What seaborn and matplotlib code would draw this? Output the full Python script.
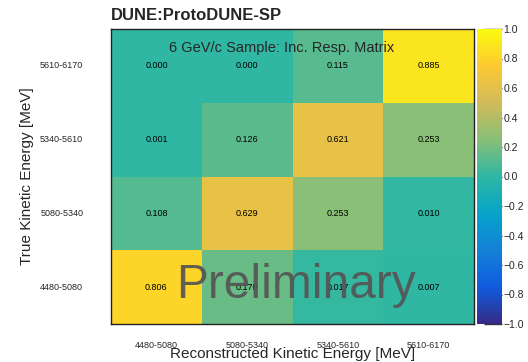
import numpy as np
import pandas as pd
import matplotlib
matplotlib.use("Agg")
import matplotlib.pyplot as plt
from matplotlib.colors import LinearSegmentedColormap
import seaborn as sns

# Energy bins (MeV)
reco_bins = ["4480-5080", "5080-5340", "5340-5610", "5610-6170"]
true_bins = ["5610-6170", "5340-5610", "5080-5340", "4480-5080"]  # top to bottom

# Response matrix rows (true bin), columns (reconstructed bin)
row_5610_6170 = [0.000, 0.000, 0.115, 0.885]
row_5340_5610 = [0.001, 0.126, 0.621, 0.253]
row_5080_5340 = [0.108, 0.629, 0.253, 0.010]
row_4480_5080 = [0.806, 0.170, 0.017, 0.007]

cbar_ticks = [-1.0, -0.8, -0.6, -0.4, -0.2, 0.0, 0.2, 0.4, 0.6, 0.8, 1.0]

matrix = pd.DataFrame(
    [row_5610_6170, row_5340_5610, row_5080_5340, row_4480_5080],
    index=true_bins, columns=reco_bins,
)

# ROOT "bird" palette
stops = [0.0, 0.125, 0.25, 0.375, 0.5, 0.625, 0.75, 0.875, 1.0]
red = [0.2082, 0.0592, 0.0780, 0.0232, 0.1802, 0.5301, 0.8186, 0.9956, 0.9764]
green = [0.1664, 0.3599, 0.5041, 0.6419, 0.7178, 0.7492, 0.7328, 0.7862, 0.9832]
blue = [0.5293, 0.8684, 0.8385, 0.7914, 0.6425, 0.4662, 0.3499, 0.1968, 0.0539]
bird = LinearSegmentedColormap.from_list(
    "bird", list(zip(stops, zip(red, green, blue))), N=256)

sns.set_style("white")
plt.rcParams["font.family"] = ["Liberation Sans", "DejaVu Sans"]
plt.rcParams["axes.unicode_minus"] = True

W, H = 528, 362
fig = plt.figure(figsize=(W / 100, H / 100), dpi=100)
ax = fig.add_axes([111 / W, 1 - 324 / H, (474 - 111) / W, (324 - 29) / H])
cax = fig.add_axes([477 / W, 1 - 324 / H, (502 - 477) / W, (324 - 29) / H])

sns.heatmap(matrix, ax=ax, cbar_ax=cax, cmap=bird, vmin=-1, vmax=1,
            annot=True, fmt=".3f", annot_kws={"size": 6.5, "color": "black"},
            linewidths=0)

# Frame
for sp in ax.spines.values():
    sp.set_visible(True)
    sp.set_linewidth(1.0)
    sp.set_color("#222222")

ax.tick_params(axis="both", which="major", length=0, labelsize=6.5)
ax.tick_params(axis="x", which="major", pad=12)
ax.tick_params(axis="y", which="major", pad=20)
ax.set_yticklabels(true_bins, rotation=0)
ax.set_xticklabels(reco_bins, rotation=0)

# Inner ticks at bin edges, on all sides
ax.set_xticks([1, 2, 3], minor=True)
ax.set_yticks([1, 2, 3], minor=True)
ax.tick_params(axis="x", which="minor", direction="in", length=7, width=1,
               top=True, bottom=True, color="#222222")
ax.tick_params(axis="y", which="minor", direction="in", length=13, width=1,
               left=True, right=True, color="#222222")

ax.set_xlabel("Reconstructed Kinetic Energy [MeV]", fontsize=11, labelpad=-2)
ax.set_ylabel("True Kinetic Energy [MeV]", fontsize=11, labelpad=4)

# Colour bar
cax.set_yticks(cbar_ticks)
cax.set_yticklabels([f"{t:.1f}".replace("-", "\u2212") for t in cbar_ticks])
cax.tick_params(axis="y", direction="in", length=13, width=1, labelsize=7.5,
                pad=1, color="#333333")
for sp in cax.spines.values():
    sp.set_visible(False)

fig.text(111 / W, 1 - 16 / H, "DUNE:ProtoDUNE-SP", fontsize=12,
         fontweight="bold", ha="left", va="center")
ax.text(0.47, 0.937, "6 GeV/c Sample: Inc. Resp. Matrix", transform=ax.transAxes,
        fontsize=10.5, ha="center", va="center")
ax.text(0.511, 0.088, "Preliminary", transform=ax.transAxes, fontsize=34.5,
        color="#555555", alpha=0.92, ha="center", va="baseline")

fig.savefig("out.png", dpi=100)
